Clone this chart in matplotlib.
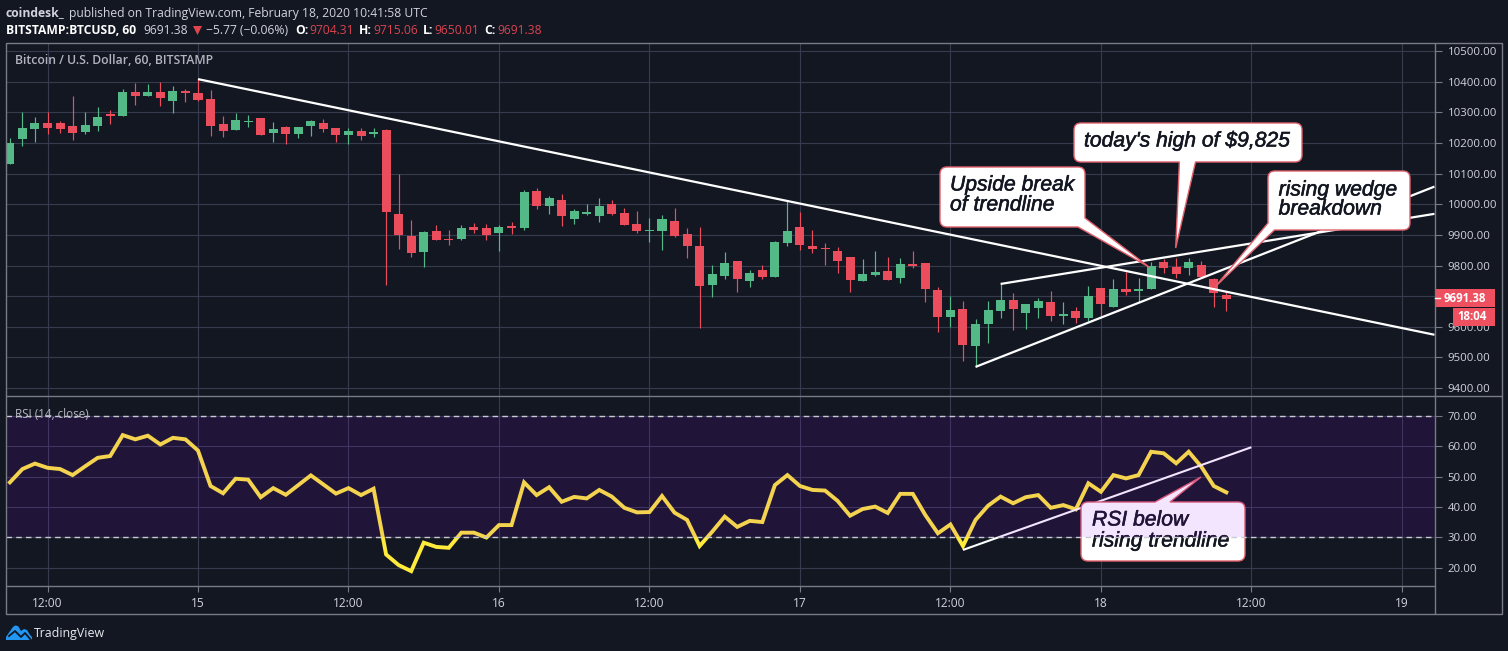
import numpy as np
import matplotlib
matplotlib.use("Agg")
import matplotlib.pyplot as plt
import matplotlib.patheffects as pe
from matplotlib.path import Path
from matplotlib.patches import PathPatch, Polygon
from matplotlib.transforms import Affine2D

plt.rcParams['font.family'] = ['Open Sans', 'DejaVu Sans']

# hourly candles, hour 0 is Feb 15 00:00
hours = list(range(-15, 83))
opens = [10133, 10213, 10246, 10265, 10265, 10255, 10237, 10256, 10295, 10289, 10366, 10354, 10366, 10338, 10371,
         10363, 10343, 10262, 10243, 10269, 10282, 10233, 10252, 10230, 10256, 10265, 10249, 10227, 10239, 10230,
         10243, 9969, 9897, 9844, 9913, 9887, 9887, 9926, 9923, 9906, 9929, 9923, 10044, 9995, 10014, 9952, 9969,
         9962, 10001, 9972, 9936, 9914, 9913, 9946, 9903, 9864, 9736, 9766, 9815, 9750, 9786, 9763, 9874, 9926,
         9864, 9857, 9848, 9828, 9750, 9769, 9782, 9759, 9805, 9808, 9720, 9632, 9658, 9537, 9609, 9652, 9688,
         9645, 9661, 9681, 9635, 9652, 9629, 9727, 9665, 9723, 9717, 9723, 9812, 9795, 9792, 9802, 9756, 9704.31]
highs = [10216, 10301, 10285, 10301, 10272, 10353, 10301, 10317, 10307, 10376, 10396, 10393, 10399, 10386, 10376,
         10409, 10373, 10288, 10298, 10292, 10282, 10268, 10255, 10254, 10275, 10278, 10249, 10249, 10249, 10249,
         10245, 10099, 9949, 9913, 9933, 9916, 9933, 9939, 9936, 9933, 9942, 10047, 10054, 10027, 10034, 9985,
         10001, 10021, 10014, 9988, 9978, 9956, 9965, 9988, 9923, 9926, 9802, 9844, 9815, 9786, 9802, 9880, 10014,
         9975, 9916, 9874, 9861, 9828, 9822, 9848, 9828, 9825, 9848, 9808, 9730, 9701, 9684, 9625, 9684, 9740,
         9710, 9675, 9694, 9717, 9681, 9665, 9733, 9727, 9756, 9779, 9759, 9812, 9822, 9825, 9825, 9815, 9759, 9715.06]
lows = [10132, 10189, 10205, 10230, 10234, 10210, 10230, 10240, 10263, 10287, 10325, 10354, 10322, 10299, 10335,
        10338, 10223, 10220, 10243, 10253, 10227, 10204, 10197, 10217, 10223, 10236, 10204, 10197, 10210, 10220,
        9737, 9854, 9828, 9795, 9884, 9867, 9884, 9906, 9884, 9848, 9903, 9916, 9985, 9969, 9929, 9936, 9965,
        9942, 9965, 9933, 9906, 9877, 9851, 9893, 9825, 9596, 9697, 9756, 9714, 9730, 9756, 9763, 9864, 9851,
        9841, 9802, 9776, 9714, 9750, 9766, 9753, 9743, 9792, 9681, 9583, 9599, 9488, 9469, 9547, 9629, 9590,
        9593, 9629, 9619, 9609, 9612, 9619, 9632, 9665, 9704, 9681, 9723, 9776, 9759, 9769, 9763, 9665, 9650.01]
closes = [10202, 10248, 10265, 10250, 10246, 10234, 10258, 10285, 10289, 10366, 10354, 10366, 10348, 10369, 10365,
          10341, 10256, 10240, 10275, 10272, 10227, 10245, 10230, 10252, 10272, 10246, 10227, 10240, 10223, 10236,
          9975, 9900, 9841, 9910, 9884, 9884, 9923, 9916, 9900, 9926, 9923, 10040, 9995, 10021, 9962, 9978, 9975,
          9995, 9969, 9933, 9913, 9916, 9952, 9897, 9864, 9733, 9773, 9808, 9756, 9776, 9763, 9877, 9913, 9867,
          9854, 9854, 9815, 9753, 9773, 9779, 9753, 9805, 9799, 9723, 9632, 9655, 9541, 9609, 9655, 9688, 9658,
          9675, 9684, 9635, 9642, 9629, 9701, 9675, 9723, 9714, 9723, 9799, 9792, 9773, 9812, 9763, 9710, 9691.38]

rsi = [48.1, 52.5, 54.3, 52.9, 52.5, 50.5, 53.4, 56.2, 56.8, 63.7, 62.3, 63.5, 60.6, 62.8, 62.3, 58.6, 46.9, 44.5,
       49.3, 49.0, 43.2, 46.2, 44.0, 47.2, 50.4, 47.4, 44.4, 46.2, 43.9, 46.0, 24.3, 20.8, 18.8, 28.2, 26.8, 26.5,
       31.5, 31.5, 29.9, 34.0, 34.0, 48.1, 43.9, 46.5, 41.7, 43.3, 42.8, 45.6, 43.4, 39.7, 38.2, 38.3, 43.6, 38.1,
       35.7, 27.1, 31.8, 36.8, 33.4, 35.4, 35.0, 47.2, 50.5, 46.9, 45.6, 45.4, 42.0, 37.1, 39.3, 40.1, 38.0, 44.3,
       44.3, 37.3, 31.3, 34.2, 27.1, 35.7, 40.4, 43.4, 41.2, 43.2, 43.9, 39.7, 40.6, 39.2, 47.8, 45.0, 50.5, 49.4,
       50.5, 58.2, 57.7, 54.4, 58.2, 53.3, 46.9, 44.8]

price_ticks = [10500, 10400, 10300, 10200, 10100, 10000, 9900, 9800, 9700, 9600, 9500, 9400]
rsi_ticks = [70, 60, 50, 40, 30, 20]
time_ticks = [-12, 0, 12, 24, 36, 48, 60, 72, 84, 96]
time_labels = ['12:00', '15', '12:00', '16', '12:00', '17', '12:00', '18', '12:00', '19']

# trendlines, (hour, value) at both ends
falling_line = [(0, 10409), (98.6, 9574)]
wedge_top = [(64, 9740), (98.6, 9969)]
wedge_bottom = [(62, 9469), (98.6, 10058)]
rsi_line = [(61, 25.8), (84, 59.7)]

bg = '#131722'
grid = '#363c4e'
frame = '#787b86'
text_col = '#d1d4dc'
green = '#53b987'
red = '#eb4d5c'

W, H = 1508, 651
fig = plt.figure(figsize=(W / 100, H / 100), dpi=100, facecolor=bg)
px = Affine2D().scale(1, -1).translate(0, H)


def pane(x0, y0, x1, y1):
    return fig.add_axes([x0 / W, 1 - y1 / H, (x1 - x0) / W, (y1 - y0) / H], facecolor=bg)


ax = pane(6, 43, 1435, 396)
ax2 = pane(6, 396, 1435, 586)

for a in (ax, ax2):
    a.set_xlim(-15.31, 98.64)
    for s in a.spines.values():
        s.set_visible(False)
    a.set_xticks(time_ticks)
    a.grid(True, color=grid, lw=0.8)
    a.set_axisbelow(True)
    a.yaxis.tick_right()
    a.tick_params(axis='y', length=5, width=0.8, color=frame, labelcolor=text_col, labelsize=8.2, pad=4)
    a.tick_params(axis='x', length=0)

ax.set_ylim(9374, 10527)
ax.set_yticks(price_ticks)
# the 9700 label sits behind the last price box
ax.set_yticklabels(['' if t == 9700 else '%.2f' % t for t in price_ticks])
ax.set_xticklabels([])

ax2.set_ylim(13.9, 76.6)
ax2.set_yticks(rsi_ticks)
ax2.set_yticklabels(['%.2f' % t for t in rsi_ticks])
ax2.set_xticks(time_ticks)
ax2.set_xticklabels(time_labels)
ax2.tick_params(axis='x', length=4, width=0.8, color=frame, labelcolor=text_col, labelsize=8.6, pad=4)

# candles
for h, o, hi, lo, c in zip(hours, opens, highs, lows, closes):
    col = green if c >= o else red
    ax.vlines(h, lo, hi, color=col, lw=0.85, zorder=3)
    ax.bar(h, max(abs(c - o), 3), bottom=min(o, c), width=0.72, color=col, lw=0, zorder=4)

for line in (falling_line, wedge_top, wedge_bottom):
    ax.plot(*zip(*line), color='white', lw=1.6, solid_capstyle='butt', zorder=5)


def rounded(points):
    # points are (x, y, radius), corner radius 0 leaves a sharp vertex
    verts, codes = [], []
    n = len(points)
    for i, (x, y, r) in enumerate(points):
        p = np.array([x, y], float)
        if r == 0:
            verts.append(p)
            codes.append(Path.MOVETO if i == 0 else Path.LINETO)
            continue
        prev = np.array(points[i - 1][:2], float)
        nxt = np.array(points[(i + 1) % n][:2], float)
        a = p + (prev - p) / np.linalg.norm(prev - p) * r
        b = p + (nxt - p) / np.linalg.norm(nxt - p) * r
        verts += [a, p, b]
        codes += [Path.MOVETO if i == 0 else Path.LINETO, Path.CURVE3, Path.CURVE3]
    verts.append(verts[0])
    codes.append(Path.CLOSEPOLY)
    return Path(verts, codes)


def callout(a, points, lines, z):
    a.add_patch(PathPatch(rounded(points), transform=px, fc='white', ec='#e0616c', lw=1, zorder=z, clip_on=False))
    for x, y, s in lines:
        t = a.text(x, y, s, transform=px, color=bg, fontsize=15.2, style='italic',
                   family=['Liberation Sans'], va='center', ha='left', zorder=z + 0.1)
        t.set_path_effects([pe.withStroke(linewidth=0.4, foreground=bg)])


R = 7
callout(ax, [(940, 167, R), (1085, 167, R), (1085, 218, 0), (1149, 267, 0), (1078, 227, 0), (940, 227, R)],
        [(950, 185, 'Upside break'), (950, 205, 'of trendline')], 8)
callout(ax, [(1074, 123, R), (1302, 123, R), (1302, 162, R), (1195.5, 162, 0), (1175.7, 248, 0), (1179.4, 162, 0),
             (1074, 162, R)],
        [(1084, 141, "today's high of $9,825")], 8)
callout(ax, [(1268, 171, R), (1410, 171, R), (1410, 230, R), (1274.5, 230, 0), (1215, 287, 0), (1268, 223, 0)],
        [(1278.6, 190, 'rising wedge'), (1278.6, 209, 'breakdown')], 8)

# rsi pane: the purple band sits over the line and the callout
ax2.plot(hours, rsi, color='#ffeb3b', lw=2.8, solid_joinstyle='miter', zorder=3)
ax2.plot(*zip(*rsi_line), color='white', lw=1.5, solid_capstyle='butt', zorder=4)
callout(ax2, [(1081, 502, R), (1155, 502, 0), (1201, 477, 0), (1170, 502, 0), (1245, 502, R), (1245, 561, R),
              (1081, 561, R)],
        [(1092, 520, 'RSI below'), (1092, 541, 'rising trendline')], 6)
ax2.axhspan(30, 70, color='#9800ff', alpha=0.1, lw=0, zorder=7)
for v in (70, 30):
    ax2.axhline(v, color='#c8cad0', lw=1, dashes=(4, 3), zorder=8)

# frame
over = fig.add_axes([0, 0, 1, 1], facecolor='none')
over.set_axis_off()
over.set_xlim(0, W)
over.set_ylim(H, 0)
for xs, ys in [((6, 1502, 1502, 6, 6), (43, 43, 614, 614, 43)), ((6, 1502), (396, 396)), ((6, 1435), (586, 586)),
               ((1435, 1435), (43, 614))]:
    over.plot(xs, ys, color=frame, lw=1, solid_capstyle='butt')

# last price boxes
over.add_patch(plt.Rectangle((1435, 289), 60, 18, color='#ef5060', lw=0))
over.add_patch(plt.Rectangle((1453, 308), 42, 18, color='#ef5060', lw=0))
over.plot((1435, 1440), (298, 298), color='white', lw=1)
over.text(1465, 298, '9691.38', color='white', fontsize=8.3, weight='bold', ha='center', va='center')
over.text(1472, 317, '18:04', color='white', fontsize=8.3, weight='bold', ha='center', va='center')

# header
head = dict(fontsize=8.75, va='center', ha='left')
over.text(6, 13, 'coindesk_', color=text_col, weight='bold', **head)
over.text(69, 13, 'published on TradingView.com, February 18, 2020 10:41:58 UTC', color=text_col, **head)
over.text(6, 30, 'BITSTAMP:BTCUSD, 60', color='white', weight='bold', **head)
over.text(143, 30, '9691.38', color=text_col, **head)
over.add_patch(Polygon([(193, 26), (202, 26), (197.5, 35)], color='#e0444f', lw=0))
over.text(206, 30, '\u22125.77 (\u22120.06%)', color=text_col, **head)
for x, lab, xv, val in [(295, 'O:', 309, '9704.31'), (359, 'H:', 373, '9715.06'), (423, 'L:', 434, '9650.01'),
                        (484, 'C:', 497, '9691.38')]:
    over.text(x, 30, lab, color='white', weight='bold', **head)
    over.text(xv, 30, val, color='#d9444f', **head)

over.text(15, 60, 'Bitcoin / U.S. Dollar, 60, BITSTAMP', color='#b2b5be', fontsize=8.8, weight='semibold',
          va='center', ha='left')
over.text(15, 414, 'RSI (14, close)', color='#b2b5be', fontsize=8.4, va='center', ha='left')

# logo
over.add_patch(Polygon([(6, 640), (6, 637), (8, 634), (13, 627), (15, 625.5), (18, 626), (21, 631), (24, 629),
                        (27, 630), (30, 635), (32, 637), (32, 640)], color='#2196f3', lw=0))
over.plot((9, 15, 21, 25, 31), (636, 631, 637, 633, 640), color=bg, lw=1.3)
over.text(34, 633, 'TradingView', color='#e8eaee', fontsize=8.9, va='center', ha='left')

fig.savefig('out.png', dpi=100, facecolor=bg)
